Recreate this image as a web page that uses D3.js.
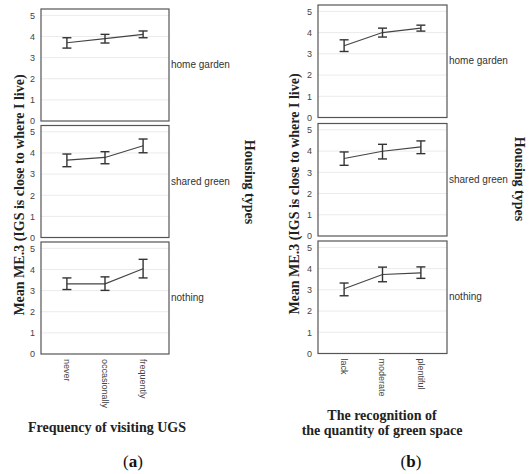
<!DOCTYPE html>
<html>
<head>
<meta charset="utf-8">
<script src="https://cdn.jsdelivr.net/npm/d3@7"></script>
<style>
body { margin: 0; background: #fff; }
svg { display: block; }
</style>
</head>
<body>
<svg id="chart" width="529" height="474"></svg>
<script>
// data
const housing = ["home garden", "shared green", "nothing"];
const yTicks = [0, 1, 2, 3, 4, 5];

const freqCats = ["never", "occasionally", "frequently"];
const freqMean = [[3.70, 3.90, 4.10], [3.66, 3.79, 4.34], [3.32, 3.32, 4.03]];
const freqLow  = [[3.45, 3.69, 3.94], [3.35, 3.49, 4.01], [3.05, 3.01, 3.60]];
const freqHigh = [[3.94, 4.10, 4.26], [3.95, 4.06, 4.66], [3.60, 3.65, 4.48]];

const qtyCats = ["lack", "moderate", "plentiful"];
const qtyMean = [[3.38, 4.00, 4.21], [3.65, 3.99, 4.20], [3.05, 3.72, 3.80]];
const qtyLow  = [[3.11, 3.79, 4.07], [3.33, 3.63, 3.88], [2.72, 3.38, 3.54]];
const qtyHigh = [[3.66, 4.21, 4.35], [3.96, 4.32, 4.48], [3.32, 4.07, 4.08]];

const yTitle = "Mean ME.3 (IGS is close to where I live)";
const svg = d3.select("#chart");
const serif = "'Liberation Serif', 'DejaVu Serif', serif";
const sans = "'Liberation Sans', Arial, sans-serif";

function drawFigure(opt) {
  const x = d3.scalePoint()
    .domain(opt.cats)
    .range([opt.left, opt.right])
    .padding(0.68);

  opt.rows.forEach((top, r) => {
    const bottom = top + opt.rowH;
    const y = d3.scaleLinear().domain([0, 5.3]).range([bottom, top]);
    const g = svg.append("g");

    // grid
    g.selectAll("line.grid")
      .data(yTicks.slice(1))
      .join("line")
      .attr("x1", opt.left).attr("x2", opt.right)
      .attr("y1", d => y(d)).attr("y2", d => y(d))
      .attr("stroke", "#ebebeb").attr("stroke-width", 1);

    // y axis labels
    const yAxis = d3.axisLeft(y).tickValues(yTicks).tickFormat(d3.format("d"))
      .tickSize(0).tickPadding(6);
    const ya = g.append("g")
      .attr("transform", `translate(${opt.left},0)`)
      .call(yAxis);
    ya.select(".domain").remove();
    ya.selectAll("text")
      .attr("font-family", sans).attr("font-size", 9).attr("fill", "#444");

    // frame
    g.append("rect")
      .attr("x", opt.left).attr("y", top)
      .attr("width", opt.right - opt.left).attr("height", opt.rowH)
      .attr("fill", "none").attr("stroke", "#555").attr("stroke-width", 1.2);

    const pts = opt.cats.map((c, i) => ({
      c: c, m: opt.mean[r][i], lo: opt.low[r][i], hi: opt.high[r][i]
    }));

    // mean line
    g.append("path")
      .datum(pts)
      .attr("fill", "none").attr("stroke", "#444").attr("stroke-width", 1.1)
      .attr("d", d3.line().x(d => x(d.c)).y(d => y(d.m)));

    // error bars
    const eb = g.selectAll("g.eb").data(pts).join("g")
      .attr("stroke", "#333").attr("stroke-width", 1.4);
    eb.append("line")
      .attr("x1", d => x(d.c)).attr("x2", d => x(d.c))
      .attr("y1", d => y(d.lo)).attr("y2", d => y(d.hi));
    eb.append("line")
      .attr("x1", d => x(d.c) - 4.5).attr("x2", d => x(d.c) + 4.5)
      .attr("y1", d => y(d.lo)).attr("y2", d => y(d.lo));
    eb.append("line")
      .attr("x1", d => x(d.c) - 4.5).attr("x2", d => x(d.c) + 4.5)
      .attr("y1", d => y(d.hi)).attr("y2", d => y(d.hi));

    // row label
    g.append("text")
      .attr("x", opt.right + 2).attr("y", top + opt.rowH / 2 + 3)
      .attr("font-family", sans).attr("font-size", 10).attr("fill", "#333")
      .text(housing[r]);
  });

  // x tick labels (rotated)
  const lastBottom = opt.rows[opt.rows.length - 1] + opt.rowH;
  svg.append("g").selectAll("text")
    .data(opt.cats)
    .join("text")
    .attr("transform", d => `translate(${x(d)},${lastBottom + 5}) rotate(90)`)
    .attr("dy", "0.35em")
    .attr("font-family", sans).attr("font-size", 9).attr("fill", "#444")
    .text(d => d);

  // y title
  svg.append("text")
    .attr("transform", `translate(${opt.yTitleX},${opt.yTitleY}) rotate(-90)`)
    .attr("text-anchor", "middle")
    .attr("font-family", serif).attr("font-size", 14).attr("font-weight", "bold")
    .attr("fill", "#222")
    .text(yTitle);

  // housing types
  svg.append("text")
    .attr("transform", `translate(${opt.hTitleX},${opt.hTitleY}) rotate(90)`)
    .attr("text-anchor", "middle")
    .attr("font-family", serif).attr("font-size", 14).attr("font-weight", "bold")
    .attr("fill", "#222")
    .text("Housing types");

  // x title
  const xt = svg.append("text")
    .attr("text-anchor", "middle")
    .attr("font-family", serif).attr("font-size", 14).attr("font-weight", "bold")
    .attr("fill", "#222");
  opt.xTitle.forEach((line, i) => {
    xt.append("tspan").attr("x", opt.xTitleX).attr("y", opt.xTitleY + i * 15).text(line);
  });

  // panel letter
  const pl = svg.append("text")
    .attr("x", opt.letterX).attr("y", 467)
    .attr("text-anchor", "middle")
    .attr("font-family", serif).attr("font-size", 17).attr("fill", "#111");
  pl.append("tspan").text("(");
  pl.append("tspan").attr("font-weight", "bold").text(opt.letter);
  pl.append("tspan").text(")");
}

drawFigure({
  cats: freqCats, mean: freqMean, low: freqLow, high: freqHigh,
  left: 41, right: 169, rows: [9, 125.5, 242], rowH: 112,
  yTitleX: 24, yTitleY: 195, hTitleX: 245, hTitleY: 182,
  xTitle: ["Frequency of visiting UGS"], xTitleX: 107, xTitleY: 432,
  letter: "a", letterX: 133
});

drawFigure({
  cats: qtyCats, mean: qtyMean, low: qtyLow, high: qtyHigh,
  left: 318, right: 447, rows: [5, 123.5, 241], rowH: 112.5,
  yTitleX: 299, yTitleY: 194, hTitleX: 515, hTitleY: 179,
  xTitle: ["The recognition of", "the quantity of green space"], xTitleX: 382, xTitleY: 420,
  letter: "b", letterX: 411
});
</script>
</body>
</html>
